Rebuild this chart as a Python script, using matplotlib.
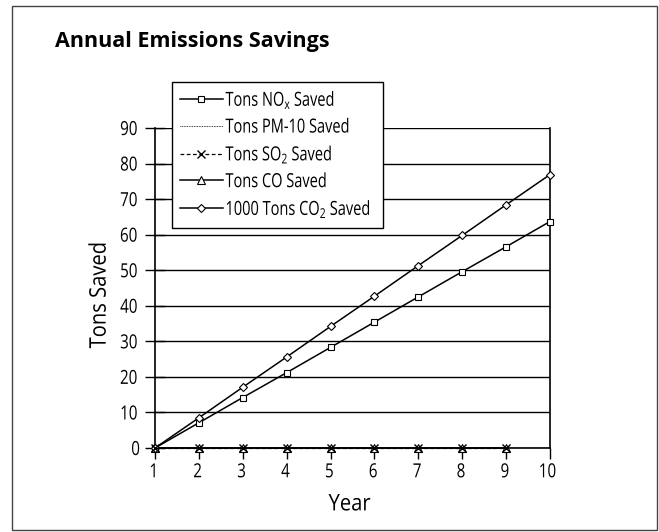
import matplotlib
matplotlib.use("Agg")
import matplotlib.pyplot as plt
from matplotlib.patches import Rectangle
from matplotlib import patheffects
from matplotlib.transforms import Affine2D

years = [1, 2, 3, 4, 5, 6, 7, 8, 9, 10]
nox = [0, 7.1, 14.2, 21.2, 28.3, 35.4, 42.5, 49.6, 56.6, 63.7]
pm10 = [0, 0, 0, 0, 0, 0, 0, 0, 0]
so2 = [0, 0, 0, 0, 0, 0, 0, 0, 0]
co = [0, 0, 0, 0, 0, 0, 0, 0, 0]
co2_k = [0, 8.5, 17.1, 25.6, 34.2, 42.7, 51.3, 59.8, 68.4, 76.9]
yticks = [0, 10, 20, 30, 40, 50, 60, 70, 80, 90]
labels = ['Tons NO$_x$ Saved', 'Tons PM-10 Saved', 'Tons SO$_2$ Saved',
          'Tons CO Saved', '1000 Tons CO$_2$ Saved']


class Condense(patheffects.AbstractPathEffect):
    """Draw text glyphs horizontally condensed (like a condensed typeface)."""
    def __init__(self, sx):
        super().__init__()
        self.sx = sx

    def draw_path(self, renderer, gc, tpath, affine, rgbFace=None):
        renderer.draw_path(gc, tpath, Affine2D().scale(self.sx, 1) + affine, rgbFace)


FONT = "Open Sans"
plt.rcParams['font.family'] = [FONT, 'DejaVu Sans']
plt.rcParams['mathtext.fontset'] = 'custom'
plt.rcParams['mathtext.rm'] = FONT
plt.rcParams['mathtext.it'] = FONT
plt.rcParams['mathtext.bf'] = FONT

fig = plt.figure(figsize=(6.59, 5.32), dpi=100)
ax = fig.add_axes([155/659, 1-448/532, (550-155)/659, (448-128)/532])

fig.patches.append(Rectangle((12/659, 2/532), 645/659, 524/532, transform=fig.transFigure,
                             fill=False, edgecolor='#444444', lw=1.0))
fig.text(55/659, 1-42/532, "Annual Emissions Savings", fontsize=15.5, fontweight='bold',
         va='center', ha='left')

k = 'black'
l1, = ax.plot(years, nox, color=k, lw=1.1, marker='s', ms=5, mfc='white', mec=k, mew=0.8,
              label=labels[0], clip_on=False, zorder=5)
l2, = ax.plot(years[:9], pm10, color=k, lw=0.6, ls=(0, (1, 1)),
              label=labels[1], clip_on=False, zorder=5)
l3, = ax.plot(years[:9], so2, color=k, lw=0.9, ls=(0, (3, 2)), marker='x', ms=6, mew=1.0,
              label=labels[2], clip_on=False, zorder=6)
l4, = ax.plot(years[:9], co, color=k, lw=1.1, marker='^', ms=6, mfc='white', mec=k, mew=0.8,
              label=labels[3], clip_on=False, zorder=5)
l5, = ax.plot(years, co2_k, color=k, lw=1.1, marker='D', ms=4.5, mfc='white', mec=k, mew=0.8,
              label=labels[4], clip_on=False, zorder=5)

ax.set_xlim(1, 10)
ax.set_ylim(0, 90)
ax.set_xticks(years)
ax.set_yticks(yticks)
ax.tick_params(axis='y', direction='inout', length=14, width=1, labelsize=14, pad=2)
ax.tick_params(axis='x', direction='out', length=8, width=1, labelsize=14, pad=3)
for t in ax.xaxis.get_ticklines():
    t.set_linestyle((0, (2, 1)))
ax.grid(axis='y', color='black', lw=1)
ax.set_axisbelow(True)
ax.spines['top'].set_visible(False)
for s in ['left', 'right', 'bottom']:
    ax.spines[s].set_linewidth(1.2)

cond = [Condense(0.78)]
for lab in ax.get_xticklabels():
    lab.set_path_effects(cond)
for lab in ax.get_yticklabels():
    lab.set_path_effects(cond)

xl = ax.set_xlabel("Year", fontsize=16.5, labelpad=8)
yl = ax.set_ylabel("Tons Saved", fontsize=16.5, labelpad=6)
xl.set_path_effects([Condense(0.88)])
yl.set_path_effects([Condense(0.88)])

leg = fig.legend(handles=[l1, l2, l3, l4, l5], loc='upper left',
                 bbox_to_anchor=(172/659, 1-82/532, 211/659, 0), mode='expand',
                 fontsize=14, frameon=True,
                 fancybox=False, edgecolor='black', framealpha=1, handlelength=2.2,
                 handletextpad=0.15, labelspacing=0.4, borderpad=0.4, borderaxespad=0)
leg.get_frame().set_linewidth(1.0)
leg.set_zorder(10)
for t in leg.get_texts():
    t.set_path_effects([Condense(0.75)])

fig.savefig("out.png", dpi=100)
